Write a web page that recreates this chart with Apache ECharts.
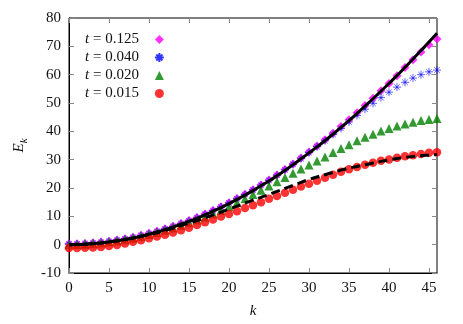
<!DOCTYPE html>
<html>
<head>
<meta charset="utf-8">
<script src="https://cdn.jsdelivr.net/npm/echarts@6/dist/echarts.min.js"></script>
<style>
  html, body { margin: 0; padding: 0; background: #fff; }
  #chart { width: 463px; height: 324px; }
</style>
</head>
<body>
<div id="chart"></div>
<script>
// wave number k
const kValues = [0, 1, 2, 3, 4, 5, 6, 7, 8, 9, 10, 11, 12, 13, 14, 15, 16, 17, 18, 19,
  20, 21, 22, 23, 24, 25, 26, 27, 28, 29, 30, 31, 32, 33, 34, 35, 36, 37, 38, 39,
  40, 41, 42, 43, 44, 45, 46]

// E_k for each t
const eT0125 = [0.3, 0.35, 0.45, 0.65, 0.9, 1.25, 1.65, 2.1, 2.65, 3.3,
  4.0, 4.75, 5.6, 6.5, 7.5, 8.5, 9.6, 10.8, 12.1, 13.4,
  14.8, 16.3, 17.8, 19.4, 21.1, 22.8, 24.6, 26.5, 28.5, 30.6,
  32.7, 34.8, 37.0, 39.3, 41.7, 44.1, 46.6, 49.1, 51.7, 54.3,
  56.9, 59.6, 62.5, 65.3, 68.0, 70.6, 72.6]
const eT0040 = [0.2, 0.25, 0.35, 0.55, 0.8, 1.15, 1.55, 2.0, 2.55, 3.2,
  3.9, 4.65, 5.5, 6.4, 7.4, 8.4, 9.5, 10.7, 12.0, 13.3,
  14.7, 16.2, 17.7, 19.3, 21.0, 22.7, 24.5, 26.4, 28.4, 30.4,
  32.5, 34.6, 36.7, 38.9, 41.0, 43.3, 45.6, 47.8, 49.9, 51.9,
  53.8, 55.6, 57.3, 58.8, 60.0, 61.0, 61.6]
const eT0020 = [0, 0.05, 0.15, 0.35, 0.6, 0.9, 1.3, 1.75, 2.3, 2.9,
  3.6, 4.3, 5.1, 5.9, 6.8, 7.7, 8.7, 9.7, 10.9, 12.1,
  13.4, 14.8, 16.2, 17.7, 19.2, 20.7, 22.2, 23.7, 25.2, 26.7,
  28.1, 29.5, 30.9, 32.5, 33.9, 35.3, 36.7, 37.9, 39.0, 40.1,
  41.0, 41.9, 42.6, 43.2, 43.8, 44.2, 44.5]
const eT0015 = [-1.2, -1.2, -1.1, -1.0, -0.8, -0.5, -0.1, 0.4, 1.0, 1.6,
  2.3, 2.9, 3.5, 4.3, 5.1, 6.0, 6.9, 7.9, 8.9, 9.9,
  10.8, 11.8, 12.9, 13.9, 15.0, 16.2, 17.2, 18.3, 19.4, 20.5,
  21.5, 22.6, 23.6, 24.7, 25.7, 26.6, 27.4, 28.2, 28.9, 29.6,
  30.1, 30.7, 31.2, 31.6, 32.0, 32.4, 32.6]

// reference curves (solid and dashed black)
const eSolid = [0, 0.05, 0.15, 0.35, 0.6, 0.95, 1.35, 1.8, 2.35, 3.0,
  3.7, 4.45, 5.3, 6.2, 7.2, 8.2, 9.3, 10.5, 11.8, 13.1,
  14.5, 16.0, 17.5, 19.1, 20.8, 22.5, 24.3, 26.2, 28.2, 30.3,
  32.4, 34.5, 36.7, 39.0, 41.4, 43.8, 46.3, 48.9, 51.5, 54.2,
  56.9, 59.7, 62.6, 65.5, 68.5, 71.5, 74.6]
const eDashed = [0, 0.05, 0.15, 0.35, 0.6, 0.9, 1.3, 1.75, 2.3, 2.9,
  3.5, 4.2, 5.0, 5.8, 6.7, 7.6, 8.5, 9.5, 10.5, 11.5,
  12.6, 13.6, 14.7, 15.7, 16.7, 17.7, 18.8, 19.9, 20.9, 22.0,
  23.0, 23.9, 24.7, 25.5, 26.3, 27.0, 27.6, 28.2, 28.8, 29.4,
  29.9, 30.4, 30.8, 31.1, 31.4, 31.6, 31.8]

const seriesNames = ['t = 0.125', 't = 0.040', 't = 0.020', 't = 0.015']

const pairs = (vals) => kValues.map((k, i) => [k, vals[i]])

const serif = 'Liberation Serif'
const asterisk = 'path://M5,0L5,10M0,5L10,5M1.6,1.6L8.4,8.4M1.6,8.4L8.4,1.6'

const chart = echarts.init(document.getElementById('chart'))

const tickStyle = { inside: true, length: 5, lineStyle: { color: '#888', width: 1 } }

chart.setOption({
  animation: false,
  backgroundColor: '#fff',
  grid: {
    left: 69,
    top: 18,
    right: 26,
    bottom: 47,
    show: true,
    borderColor: '#000',
    borderWidth: 1
  },
  legend: {
    data: seriesNames,
    orient: 'vertical',
    left: 80,
    top: 27,
    align: 'right',
    itemWidth: 9,
    itemHeight: 9,
    itemGap: 3,
    selectedMode: false,
    textStyle: {
      fontFamily: serif,
      fontSize: 15,
      color: '#111',
      padding: [0, 11, 0, 0],
      rich: {
        i: { fontFamily: serif, fontSize: 15, fontStyle: 'italic', color: '#111' }
      }
    },
    formatter: (n) => '{i|t} =' + n.slice(3)
  },
  xAxis: [
    {
      type: 'value',
      min: 0,
      max: 46,
      interval: 5,
      name: 'k',
      nameLocation: 'middle',
      nameGap: 31,
      nameTextStyle: { fontFamily: serif, fontSize: 15, fontStyle: 'italic', color: '#111' },
      axisLine: { show: true, onZero: false, lineStyle: { color: '#000' } },
      axisTick: tickStyle,
      splitLine: { show: false },
      axisLabel: {
        showMaxLabel: false,
        fontFamily: serif,
        fontSize: 15,
        color: '#111',
        margin: 8,
        formatter: (v) => (v % 5 === 0 ? String(v) : '')
      }
    },
    {
      type: 'value',
      position: 'top',
      min: 0,
      max: 46,
      interval: 5,
      axisLine: { show: false, onZero: false },
      axisTick: tickStyle,
      axisLabel: { show: false },
      splitLine: { show: false }
    }
  ],
  yAxis: [
    {
      type: 'value',
      min: -10,
      max: 80,
      interval: 10,
      name: '{e|E}{s|k}',
      nameLocation: 'middle',
      nameRotate: 90,
      nameGap: 42,
      nameTextStyle: {
        rich: {
          e: { fontFamily: serif, fontSize: 15, fontStyle: 'italic', color: '#111', verticalAlign: 'bottom' },
          s: { fontFamily: serif, fontSize: 11, fontStyle: 'italic', color: '#111', verticalAlign: 'bottom', padding: [0, 0, -4, 0] }
        }
      },
      axisLine: { show: true, onZero: false, lineStyle: { color: '#000' } },
      axisTick: tickStyle,
      splitLine: { show: false },
      axisLabel: { fontFamily: serif, fontSize: 15, color: '#111', margin: 8 }
    },
    {
      type: 'value',
      position: 'right',
      min: -10,
      max: 80,
      interval: 10,
      axisLine: { show: false, onZero: false },
      axisTick: tickStyle,
      axisLabel: { show: false },
      splitLine: { show: false }
    }
  ],
  series: [
    {
      name: seriesNames[0],
      type: 'scatter',
      symbol: 'diamond',
      symbolSize: 9,
      itemStyle: { color: '#ff00ff' },
      data: pairs(eT0125)
    },
    {
      name: seriesNames[1],
      type: 'scatter',
      symbol: asterisk,
      symbolSize: 8,
      itemStyle: { color: 'none', borderColor: '#0000ff', borderWidth: 0.8 },
      data: pairs(eT0040)
    },
    {
      name: seriesNames[2],
      type: 'scatter',
      symbol: 'triangle',
      symbolSize: 9,
      itemStyle: { color: '#007f00' },
      data: pairs(eT0020)
    },
    {
      name: seriesNames[3],
      type: 'scatter',
      symbol: 'circle',
      symbolSize: 8.5,
      itemStyle: { color: '#ff0000' },
      data: pairs(eT0015)
    },
    {
      name: 'solid',
      type: 'line',
      showSymbol: false,
      smooth: true,
      lineStyle: { color: '#000', width: 3 },
      data: pairs(eSolid)
    },
    {
      name: 'dashed',
      type: 'line',
      showSymbol: false,
      smooth: true,
      lineStyle: { color: '#000', width: 3, type: [9, 5] },
      data: pairs(eDashed)
    }
  ]
})
</script>
</body>
</html>
